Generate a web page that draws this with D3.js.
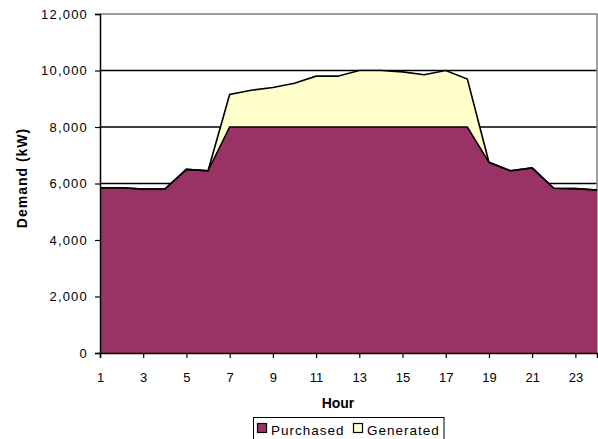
<!DOCTYPE html>
<html>
<head>
<meta charset="utf-8">
<script src="https://cdn.jsdelivr.net/npm/d3@7"></script>
<style>
  html, body { margin: 0; padding: 0; background: #fff; }
  svg { display: block; font-family: "Liberation Sans", Arial, sans-serif; }
</style>
</head>
<body>
<svg id="chart" width="598" height="439"></svg>
<script>
const hours = [1,2,3,4,5,6,7,8,9,10,11,12,13,14,15,16,17,18,19,20,21,22,23,24];
const purchased = [5850,5850,5800,5800,6500,6450,8000,8000,8000,8000,8000,8000,8000,8000,8000,8000,8000,8000,6750,6450,6550,5830,5820,5770];
const generated = [0,0,0,0,0,0,1150,1300,1400,1550,1800,1800,2000,2000,1950,1850,2000,1700,0,0,0,0,0,0];
const yTicks = [0,2000,4000,6000,8000,10000,12000];
const xTicks = [1,3,5,7,9,11,13,15,17,19,21,23];
const seriesNames = ["Purchased","Generated"];
const seriesColors = ["#993366","#FFFFCC"];

const svg = d3.select("#chart");
const L = 100, R = 597, T = 14, B = 353;
const x = d3.scaleLinear().domain([1,24]).range([L,R]);
const y = d3.scaleLinear().domain([0,12000]).range([B,T]);
const fmt = d3.format(",");

const data = hours.map((h,i) => ({h, p: purchased[i], g: generated[i]}));

// gridlines
svg.append("g").selectAll("line").data(yTicks.filter(v => v > 0 && v < 12000)).join("line")
  .attr("x1", L).attr("x2", R).attr("y1", d => y(d)).attr("y2", d => y(d))
  .attr("stroke", "#000").attr("stroke-width", 1.3);

// plot border (top/right, grey)
svg.append("path")
  .attr("d", `M${L},${y(12000)}H${R}V${B}`)
  .attr("fill", "none").attr("stroke", "#808080").attr("stroke-width", 1.5);

// areas
const areaG = d3.area().x(d => x(d.h)).y0(d => y(d.p)).y1(d => y(d.p + d.g));
const areaP = d3.area().x(d => x(d.h)).y0(y(0)).y1(d => y(d.p));
svg.append("path").datum(data).attr("d", areaG).attr("fill", seriesColors[1]);
svg.append("path").datum(data).attr("d", areaP).attr("fill", seriesColors[0]);

const lineTot = d3.line().x(d => x(d.h)).y(d => y(d.p + d.g));
const lineP = d3.line().x(d => x(d.h)).y(d => y(d.p));
svg.append("path").datum(data).attr("d", lineTot).attr("fill", "none")
  .attr("stroke", "#000").attr("stroke-width", 1.6).attr("stroke-linejoin", "miter");
svg.append("path").datum(data).attr("d", lineP).attr("fill", "none")
  .attr("stroke", "#000").attr("stroke-width", 1.6).attr("stroke-linejoin", "miter");

// y axis
const yAxis = d3.axisLeft(y).tickValues(yTicks).tickFormat(fmt).tickSize(5).tickPadding(7);
const gy = svg.append("g").attr("transform", `translate(${L},0)`).call(yAxis);
gy.select(".domain").attr("stroke", "#000").attr("stroke-width", 1.5);
gy.selectAll(".tick line").attr("stroke", "#000").attr("stroke-width", 1.2);
gy.selectAll(".tick text").attr("font-size", 13).attr("fill", "#000")
  .attr("font-family", "Liberation Sans, Arial, sans-serif").style("letter-spacing", "1.2px");

// x axis
const xAxis = d3.axisBottom(x).tickValues(xTicks).tickFormat(d3.format("d")).tickSize(5).tickPadding(15);
const gx = svg.append("g").attr("transform", `translate(0,${B})`).call(xAxis);
gx.select(".domain").attr("stroke", "#000").attr("stroke-width", 1.5);
gx.selectAll(".tick line").attr("stroke", "#000").attr("stroke-width", 1.2);
gx.selectAll(".tick text").attr("font-size", 13).attr("fill", "#000")
  .attr("font-family", "Liberation Sans, Arial, sans-serif");

// axis titles
svg.append("text").attr("x", 338).attr("y", 408).attr("text-anchor", "middle")
  .attr("font-size", 14).attr("font-weight", "bold").text("Hour");
svg.append("text").attr("transform", "translate(27,178) rotate(-90)").attr("text-anchor", "middle")
  .attr("font-size", 14).attr("font-weight", "bold").style("letter-spacing", "1px").text("Demand (kW)");

// legend
const lg = svg.append("g");
lg.append("rect").attr("x", 253.5).attr("y", 417.5).attr("width", 190.5).attr("height", 30)
  .attr("fill", "#fff").attr("stroke", "#000").attr("stroke-width", 1);
const legendX = [257, 353];
seriesNames.forEach((n, i) => {
  lg.append("rect").attr("x", legendX[i] + 0.5).attr("y", 423.5).attr("width", 9).attr("height", 9)
    .attr("fill", seriesColors[i]).attr("stroke", "#000").attr("stroke-width", 1.2);
  lg.append("text").attr("x", legendX[i] + 14).attr("y", 435).attr("font-size", 13.5)
    .style("letter-spacing", "1px").text(n);
});
</script>
</body>
</html>
